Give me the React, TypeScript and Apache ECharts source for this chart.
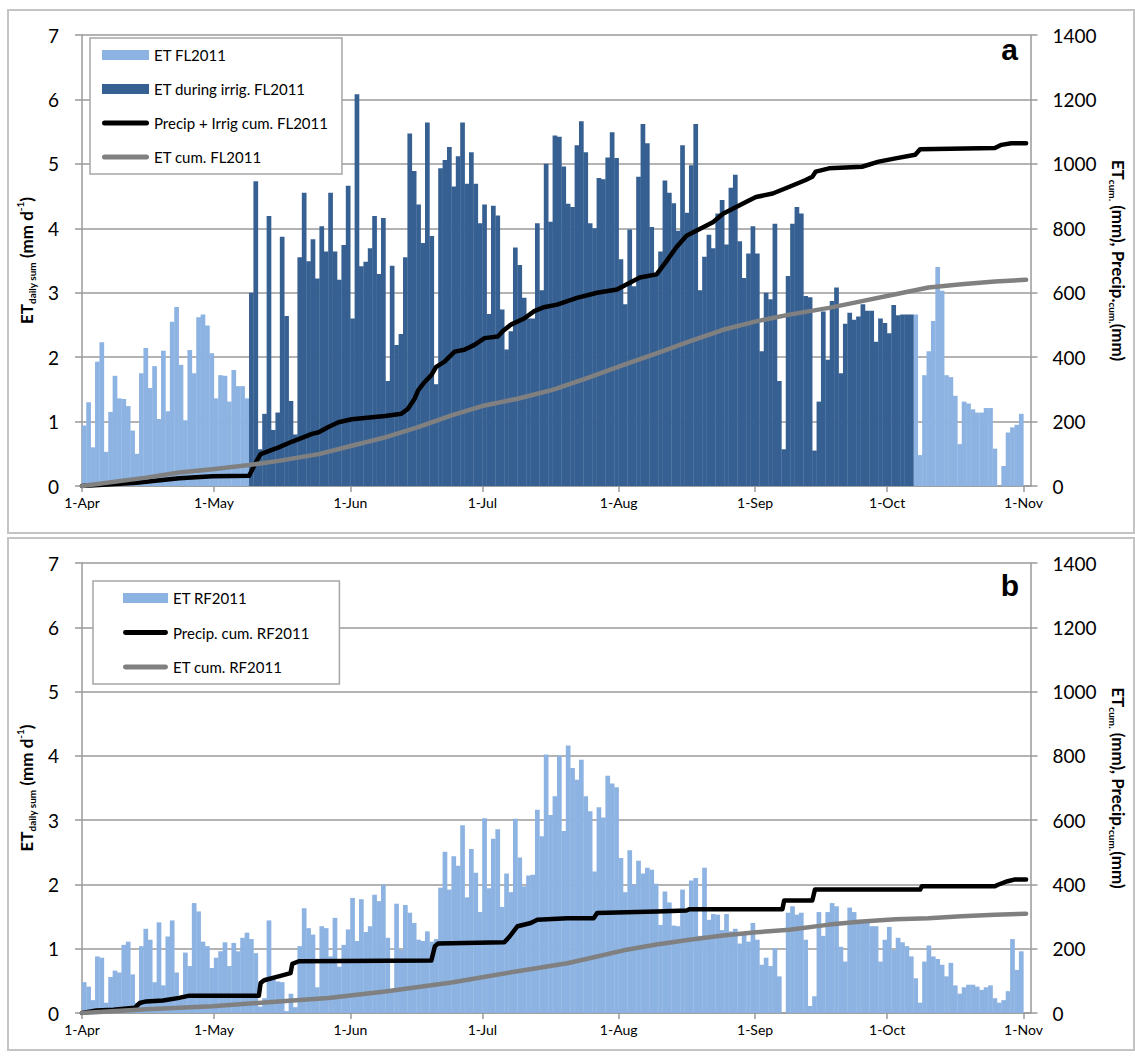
import React, { useEffect, useRef } from "react";
import * as echarts from "echarts";

// ---------- axis ticks (day offsets from 1-Apr-2011) ----------
const MONTH_TICKS = [0, 30, 61, 91, 122, 153, 183, 214];
const MONTH_LABELS = ["1-Apr", "1-May", "1-Jun", "1-Jul", "1-Aug", "1-Sep", "1-Oct", "1-Nov"];
const X_MAX = 215.6;

// ---------- panel a: daily ET, FL2011 (mm/d), one value per day ----------
const etFL_Apr = [0.94, 1.3, 0.6, 1.93, 2.23, 0.53, 1.15, 1.71, 1.36, 1.35, 1.24, 0.86, 0.5, 1.75, 2.14, 1.52, 1.86, 1.04, 2.1, 1.16, 2.55, 2.78, 1.88, 1.02, 2.11, 1.75, 2.62, 2.66, 2.49, 2.06];
const etFL_May = [1.36, 1.72, 1.71, 1.31, 1.8, 1.55, 1.55, 1.36, 3.0, 4.73, 0.57, 1.12, 4.19, 0.87, 1.14, 3.87, 2.64, 1.32, 0.8, 3.55, 4.55, 3.49, 3.83, 3.22, 4.03, 3.64, 4.55, 3.64, 3.2, 3.74, 4.66];
const etFL_Jun = [2.6, 6.08, 3.41, 3.48, 3.69, 4.19, 3.29, 4.16, 1.63, 3.42, 2.19, 2.36, 3.55, 5.47, 4.89, 4.37, 3.77, 5.64, 3.88, 1.58, 4.93, 5.06, 5.26, 4.65, 5.12, 5.64, 4.69, 5.18, 4.69, 4.08];
const etFL_Jul = [4.37, 2.67, 4.35, 4.2, 2.74, 2.12, 2.4, 3.7, 3.43, 2.92, 2.6, 2.6, 4.08, 3.04, 5.0, 4.1, 5.44, 5.42, 4.96, 4.38, 4.33, 5.29, 5.66, 5.18, 4.08, 4.0, 4.78, 4.76, 5.1, 5.49, 5.09];
const etFL_Aug = [3.52, 2.82, 3.98, 3.1, 4.8, 5.62, 5.32, 4.02, 3.29, 3.64, 4.74, 4.55, 4.39, 3.96, 5.29, 4.24, 4.98, 5.62, 3.04, 3.56, 3.9, 3.69, 4.23, 4.44, 3.75, 4.63, 4.83, 3.8, 3.23, 3.61, 4.03];
const etFL_Sep = [3.61, 2.09, 3.0, 2.9, 4.07, 1.63, 0.57, 3.26, 4.07, 4.33, 4.23, 2.95, 2.93, 0.55, 1.31, 2.71, 1.96, 2.87, 3.08, 1.75, 2.52, 2.69, 2.58, 2.63, 2.82, 2.72, 2.72, 2.24, 2.6, 2.53];
const etFL_Oct = [2.37, 2.81, 2.65, 2.66, 2.66, 2.66, 2.66, 0.48, 1.72, 2.09, 2.56, 3.4, 3.03, 1.72, 1.69, 1.4, 0.65, 1.31, 1.28, 1.19, 1.14, 1.14, 1.21, 1.21, 0.58, 0, 0.31, 0.83, 0.91, 0.95, 1.12];
// irrigation period (day index from 1-Apr): 9-May .. 6-Oct
const IRRIG_FIRST_DAY = 38;
const IRRIG_LAST_DAY = 188;

// cumulative curves, panel a: [day offset, mm]
const precipIrrigCumFL = [[0, 0], [12.4, 10], [22.1, 24], [29.7, 30], [38, 32], [39.5, 73], [40.6, 99], [44.7, 120], [47.8, 138], [52.3, 162], [53.8, 167], [56, 183], [58.3, 198], [61.3, 207], [68.9, 217], [72.6, 224], [74.1, 240], [75.6, 271], [76.4, 297], [77.9, 323], [79.4, 344], [80.5, 370], [82.4, 386], [84.7, 417], [86.9, 423], [89.2, 438], [91.5, 459], [94.5, 464], [95.6, 480], [97.5, 501], [100.5, 520], [102.8, 543], [105, 555], [108, 563], [112.5, 584], [117.1, 600], [121.6, 610], [123.1, 621], [126.8, 647], [130.6, 657], [132.9, 699], [135.1, 741], [137.4, 777], [140.4, 798], [143.4, 819], [145.7, 845], [148.7, 866], [151.7, 887], [153.2, 897], [157, 908], [160.8, 929], [164.5, 950], [166, 960], [166.8, 976], [169.8, 986], [177.3, 991], [181.1, 1007], [184.9, 1017], [189.4, 1028], [190.5, 1045], [207.5, 1049], [209, 1059], [211.2, 1064], [214.6, 1064]];
const etCumFL = [[0, 0], [14.6, 26], [22.1, 42], [29.7, 52], [38, 65], [44.7, 78], [53.8, 99], [61.3, 125], [68.9, 151], [76.4, 183], [84, 219], [91.5, 250], [99, 271], [106.5, 297], [108, 303], [115.6, 339], [123.1, 376], [130.6, 412], [138.1, 449], [145.7, 485], [153.2, 511], [160.8, 532], [169.8, 553], [177.3, 574], [184.9, 595], [192.4, 616], [199.9, 626], [207.5, 635], [214.6, 640]];

// ---------- panel b: daily ET, RF2011 (mm/d) ----------
const etRF_Apr = [0.48, 0.41, 0.2, 0.88, 0.86, 0.16, 0.56, 0.66, 0.63, 1.06, 1.11, 0.6, 0.16, 1.04, 1.31, 1.14, 0.48, 1.41, 0.43, 1.19, 1.44, 0.63, 0.21, 0.94, 0.73, 1.71, 1.58, 1.11, 1.04, 0.7];
const etRF_May = [0.86, 0.96, 1.1, 0.73, 1.09, 0.96, 1.17, 1.25, 1.15, 0.93, 0.1, 0.23, 1.44, 0.52, 0.49, 0.48, 0.03, 0.3, 0.09, 1.04, 1.63, 1.32, 1.22, 0.4, 1.35, 1.32, 0.88, 1.48, 0.72, 1.06, 1.3];
const etRF_Jun = [1.79, 1.12, 1.77, 1.26, 1.35, 1.84, 1.74, 2.0, 1.17, 0.36, 1.7, 0.98, 1.68, 1.56, 1.4, 1.14, 1.12, 1.27, 1.11, 1.15, 1.95, 2.51, 1.92, 2.44, 2.29, 2.92, 1.8, 2.55, 2.18, 1.57];
const etRF_Jul = [3.03, 1.94, 2.71, 2.86, 1.65, 2.17, 1.88, 3.02, 2.42, 1.97, 2.14, 2.15, 3.16, 2.75, 4.02, 3.08, 3.37, 4.0, 2.83, 4.16, 3.81, 3.63, 3.94, 3.37, 3.14, 2.2, 3.2, 3.04, 3.69, 3.57, 3.51];
const etRF_Aug = [2.41, 1.88, 2.53, 2.0, 2.37, 2.17, 2.26, 2.23, 2.01, 1.37, 1.89, 1.72, 1.36, 1.35, 1.92, 1.57, 2.06, 2.1, 1.2, 2.26, 1.45, 1.54, 1.53, 1.29, 1.54, 1.27, 1.31, 1.08, 1.24, 1.11, 1.4];
const etRF_Sep = [1.14, 0.75, 0.86, 0.73, 1.01, 0.57, 0, 1.56, 1.66, 1.53, 1.56, 1.14, 0.11, 0.26, 1.57, 1.2, 1.57, 1.71, 1.66, 1.03, 0.8, 1.64, 1.57, 1.45, 1.44, 1.4, 1.35, 1.35, 0.8, 1.14];
const etRF_Oct = [1.34, 0.98, 1.17, 1.1, 1.04, 0.88, 0.54, 0.16, 0.8, 1.05, 0.88, 0.84, 0.75, 0.57, 0.78, 0.43, 0.3, 0.4, 0.44, 0.44, 0.41, 0.36, 0.4, 0.43, 0.23, 0.16, 0.2, 0.34, 1.15, 0.67, 0.96];

const precipCumRF = [[0, 0], [3.3, 8], [7.1, 10], [12, 16], [13.1, 31], [14.6, 36], [18.4, 39], [22.1, 47], [24.4, 54], [40.2, 54], [40.6, 93], [41.4, 102], [44.7, 114], [47.4, 124], [47.8, 153], [49.3, 161], [79.4, 163], [80.2, 207], [80.9, 216], [96, 220], [97.2, 238], [99, 270], [102, 280], [103.5, 290], [110.3, 295], [116.3, 295], [117.1, 311], [130.6, 316], [137.4, 319], [138.1, 323], [159.2, 323], [159.6, 350], [166, 350], [166.6, 384], [190.5, 384], [190.9, 394], [207.5, 394], [208.2, 399], [210.4, 410], [211.9, 415], [214.6, 415]];
const etCumRF = [[0, 0], [14.6, 12], [29.7, 21], [44.7, 36], [56, 47], [68.9, 67], [84, 95], [99, 130], [110.3, 155], [115.6, 171], [123.1, 195], [130.6, 213], [138.1, 228], [145.7, 241], [153.2, 251], [160.8, 259], [169.8, 275], [177.3, 285], [184.9, 292], [192.4, 295], [199.9, 301], [207.5, 306], [214.6, 309]];

const LIGHT = "#8DB3E2";
const DARK = "#376092";
const GRID_GRAY = "#9a9a9a";
const FONT = "Lato, 'Open Sans', sans-serif";
const LINE_ICON = "path://M2.5,0 L44.5,0 A2.5,2.5 0 0 1 44.5,5 L2.5,5 A2.5,2.5 0 0 1 2.5,0 Z";

const etFL = [...etFL_Apr, ...etFL_May, ...etFL_Jun, ...etFL_Jul, ...etFL_Aug, ...etFL_Sep, ...etFL_Oct];
const etRF = [...etRF_Apr, ...etRF_May, ...etRF_Jun, ...etRF_Jul, ...etRF_Aug, ...etRF_Sep, ...etRF_Oct];

function App() {
  const ref = useRef<HTMLDivElement>(null);
  useEffect(() => {
    if (!ref.current) return;
    const chart = echarts.init(ref.current, undefined, { renderer: "svg" });

    const lightFL: number[][] = [];
    const darkFL: number[][] = [];
    etFL.forEach((v, k) => {
      if (k >= IRRIG_FIRST_DAY && k <= IRRIG_LAST_DAY) darkFL.push([k + 0.5, v]);
      else lightFL.push([k + 0.5, v]);
    });
    const barsRF = etRF.map((v, k) => [k + 0.5, v]);

    const labelFor = (v: number) => {
      const i = MONTH_TICKS.indexOf(Math.round(v));
      return i >= 0 ? MONTH_LABELS[i] : "";
    };

    const mkX = (gridIndex: number) => ({
      type: "value",
      gridIndex,
      min: 0,
      max: X_MAX,
      axisLine: { show: true, lineStyle: { color: GRID_GRAY, width: 1.5 } },
      axisTick: { show: true, customValues: MONTH_TICKS, length: 6, lineStyle: { color: GRID_GRAY, width: 1.5 } },
      axisLabel: { customValues: MONTH_TICKS, formatter: labelFor, fontFamily: FONT, fontSize: 14, color: "#000", margin: 9 },
      splitLine: { show: false },
    });

    const leftName = "{b|ET}{s|daily sum}{b| (mm d}{p|-1}{b|)}";
    const rightName = "{b|ET}{s|cum.}{b| (mm), Precip.}{s|cum.}{b|(mm)}";
    const nameRich = {
      b: { fontFamily: FONT, fontWeight: "bold", fontSize: 17, color: "#000", lineHeight: 22, verticalAlign: "middle" },
      s: { fontFamily: FONT, fontWeight: "bold", fontSize: 10, color: "#000", lineHeight: 22, verticalAlign: "bottom" },
      p: { fontFamily: FONT, fontWeight: "bold", fontSize: 10, color: "#000", lineHeight: 22, verticalAlign: "top" },
    };

    const mkYLeft = (gridIndex: number) => ({
      type: "value",
      gridIndex,
      min: 0,
      max: 7,
      interval: 1,
      name: leftName,
      nameLocation: "middle",
      nameRotate: 90,
      nameGap: 38,
      nameTextStyle: { rich: nameRich },
      axisLine: { show: true, lineStyle: { color: GRID_GRAY, width: 1.5 } },
      axisTick: { show: true, length: 7, lineStyle: { color: GRID_GRAY, width: 1.5 } },
      axisLabel: { fontFamily: FONT, fontSize: 19, color: "#000", margin: 23 },
      splitLine: { show: true, lineStyle: { color: GRID_GRAY, width: 1.5 } },
    });
    const mkYRight = (gridIndex: number) => ({
      type: "value",
      gridIndex,
      position: "right",
      min: 0,
      max: 1400,
      interval: 200,
      name: rightName,
      nameLocation: "middle",
      nameRotate: -90,
      nameGap: 74,
      nameTextStyle: { rich: nameRich },
      axisLine: { show: true, lineStyle: { color: GRID_GRAY, width: 1.5 } },
      axisTick: { show: true, length: 7, lineStyle: { color: GRID_GRAY, width: 1.5 } },
      axisLabel: { fontFamily: FONT, fontSize: 19, color: "#000", margin: 22, formatter: (v: number) => String(v) },
      splitLine: { show: false },
    });

    const barBase = { type: "bar", barWidth: 4.7, barGap: "-100%", z: 2 };
    const lineBase = { type: "line", symbol: "none", showSymbol: false, z: 3 };

    const legendBase = {
      orient: "vertical",
      itemWidth: 47,
      itemHeight: 10,
      itemGap: 16,
      selectedMode: false,
      backgroundColor: "#fff",
      borderColor: "#a6a6a6",
      borderWidth: 1.5,
      borderRadius: 0,
      textStyle: { fontFamily: FONT, fontSize: 15, color: "#000", lineHeight: 18 },
    };

    const blackLine = { color: "#000", width: 4.5, cap: "round", join: "round" };
    const grayLine = { color: "#808080", width: 4.5, cap: "round", join: "round" };

    chart.setOption({
      animation: false,
      backgroundColor: "#fff",
      grid: [
        { left: 82, top: 35, width: 954, height: 451 },
        { left: 82, top: 563, width: 954, height: 450 },
      ],
      xAxis: [mkX(0), mkX(1)],
      yAxis: [mkYLeft(0), mkYRight(0), mkYLeft(1), mkYRight(1)],
      legend: [
        {
          ...legendBase,
          left: 90,
          top: 38,
          padding: [8, 14, 8, 12],
          data: [
            { name: "ET FL2011", icon: "rect" },
            { name: "ET during irrig. FL2011", icon: "rect" },
            { name: "Precip + Irrig cum. FL2011", icon: LINE_ICON },
            { name: "ET cum. FL2011", icon: LINE_ICON },
          ],
        },
        {
          ...legendBase,
          left: 93,
          top: 581,
          itemWidth: 45,
          itemGap: 16.5,
          padding: [8, 30, 8, 30],
          data: [
            { name: "ET RF2011", icon: "rect" },
            { name: "Precip. cum. RF2011", icon: LINE_ICON },
            { name: "ET cum. RF2011", icon: LINE_ICON },
          ],
        },
      ],
      graphic: [
        { type: "rect", shape: { x: 8, y: 10, width: 1126, height: 523 }, style: { fill: "none", stroke: "#c4c4c4", lineWidth: 2 }, z: -10 },
        { type: "rect", shape: { x: 8, y: 538, width: 1126, height: 512 }, style: { fill: "none", stroke: "#c4c4c4", lineWidth: 2 }, z: -10 },
        { type: "text", x: 1018, y: 64, style: { text: "a", font: "bold 30px 'Liberation Sans', Arial, sans-serif", fill: "#000", textAlign: "right", textVerticalAlign: "bottom" }, z: 10 },
        { type: "text", x: 1019, y: 600, style: { text: "b", font: "bold 30px 'Liberation Sans', Arial, sans-serif", fill: "#000", textAlign: "right", textVerticalAlign: "bottom" }, z: 10 },
      ],
      series: [
        { ...barBase, name: "ET FL2011", xAxisIndex: 0, yAxisIndex: 0, data: lightFL, itemStyle: { color: LIGHT } },
        { ...barBase, name: "ET during irrig. FL2011", xAxisIndex: 0, yAxisIndex: 0, data: darkFL, itemStyle: { color: DARK } },
        { ...lineBase, name: "Precip + Irrig cum. FL2011", xAxisIndex: 0, yAxisIndex: 1, data: precipIrrigCumFL, itemStyle: { color: "#000" }, lineStyle: blackLine },
        { ...lineBase, name: "ET cum. FL2011", xAxisIndex: 0, yAxisIndex: 1, data: etCumFL, itemStyle: { color: "#808080" }, lineStyle: grayLine },
        { ...barBase, name: "ET RF2011", xAxisIndex: 1, yAxisIndex: 2, data: barsRF, itemStyle: { color: LIGHT } },
        { ...lineBase, name: "Precip. cum. RF2011", xAxisIndex: 1, yAxisIndex: 3, data: precipCumRF, itemStyle: { color: "#000" }, lineStyle: blackLine },
        { ...lineBase, name: "ET cum. RF2011", xAxisIndex: 1, yAxisIndex: 3, data: etCumRF, itemStyle: { color: "#808080" }, lineStyle: grayLine },
      ],
    });

    return () => chart.dispose();
  }, []);

  return <div ref={ref} style={{ position: "absolute", left: 0, top: 0, width: 1135, height: 1058 }} />;
}

export default App;
